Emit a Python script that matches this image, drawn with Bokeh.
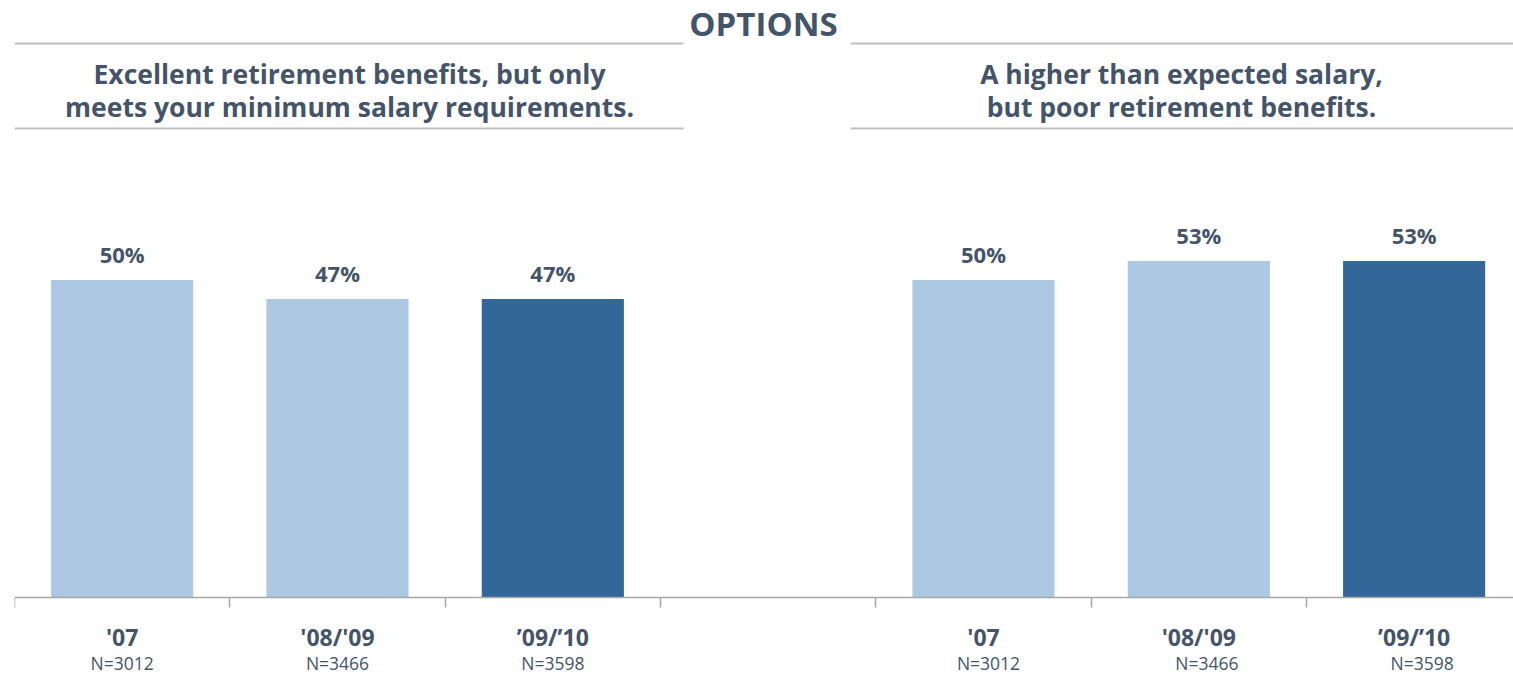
from bokeh.plotting import figure
from bokeh.models import Range1d, LinearAxis, FixedTicker, ColumnDataSource
from bokeh.core.properties import value
from bokeh.embed import file_html
from bokeh.resources import INLINE

# ---------------- data ----------------
periods = ["'07", "'08/'09", "\u201909/\u201910"]
sample_sizes = ["N=3012", "N=3466", "N=3598"]
option_titles = [
    ["Excellent retirement benefits, but only", "meets your minimum salary requirements."],
    ["A higher than expected salary,", "but poor retirement benefits."],
]
retirement_benefits_pct = [50, 47, 47]
higher_salary_pct = [50, 53, 53]
header = "OPTIONS"

# ---------------- style ----------------
LIGHT = "#adc8e3"
DARK = "#336699"
TEXT = "#44546a"
RULE = "#bfbfbf"
AXIS = "#a6a6a6"
FONT = "Open Sans"
N_SHIFT = [0, 0, 0, 5, 8, 8]   # small horizontal nudges of the N= labels (px)

W, H = 1513, 674
LEFT = 14                     # frame left border (px)
SLOT_PX = 215.33              # px per category slot
PX = 6.35                     # px per percentage point
BASE_PX = 597                 # baseline distance from frame top (px)
N_SLOTS = 7

x_end = (W - LEFT) / SLOT_PX
y_top = BASE_PX / PX
y_bot = -(H - BASE_PX) / PX

def xd(px):  # picture px -> data x
    return (px - LEFT) / SLOT_PX

def yd(py):  # picture px -> data y
    return (BASE_PX - py) / PX

p = figure(width=W, height=H, x_range=Range1d(0, x_end), y_range=Range1d(y_bot, y_top),
           x_axis_type=None, y_axis_type=None, output_backend="svg", toolbar_location=None,
           min_border_left=LEFT, min_border_right=0, min_border_top=0, min_border_bottom=0)
p.outline_line_color = None
p.xgrid.visible = False
p.ygrid.visible = False
p.background_fill_color = "white"

# bars (group 0 in slots 0-2, empty slot 3, group 1 in slots 4-6)
xs, tops, cols, labels = [], [], [], []
for g, vals in enumerate([retirement_benefits_pct, higher_salary_pct]):
    for i, v in enumerate(vals):
        xs.append(g * 4 + i + 0.5)
        tops.append(v)
        cols.append(DARK if i == len(vals) - 1 else LIGHT)
        labels.append(f"{v}%")
src = ColumnDataSource(dict(x=xs, top=tops, color=cols, label=labels,
                            period=periods * 2, n=sample_sizes * 2, nshift=N_SHIFT))
p.vbar(x="x", top="top", bottom=0, width=0.66, color="color", line_color=None, source=src)
p.text(x="x", y="top", text="label", source=src, y_offset=-26, text_align="center",
       text_baseline="middle", text_font=value(FONT), text_font_style="bold",
       text_font_size="22px", text_color=TEXT)
p.text(x="x", y=0, text="period", source=src, y_offset=39, text_align="center",
       text_baseline="middle", text_font=value(FONT), text_font_style="bold",
       text_font_size="23px", text_color=TEXT)
p.text(x="x", y=0, text="n", source=src, x_offset="nshift", y_offset=65, text_align="center",
       text_baseline="middle", text_font=value(FONT), text_font_size="17.5px",
       text_color=TEXT)

# axis at baseline with ticks at slot boundaries
ax = LinearAxis(fixed_location=0, ticker=FixedTicker(ticks=list(range(N_SLOTS + 1))))
ax.major_label_text_font_size = "0px"
ax.major_label_text_alpha = 0
ax.major_tick_in = 0
ax.major_tick_out = 10
ax.minor_tick_line_color = None
ax.axis_line_color = AXIS
ax.axis_line_width = 1.5
ax.major_tick_line_color = AXIS
ax.major_tick_line_width = 1.5
p.add_layout(ax, "below")

# header block
p.text(x=[xd(763)], y=[yd(23)], text=[header], text_align="center", text_baseline="middle",
       text_font=value(FONT), text_font_style="bold", text_font_size="33px", text_color=TEXT)
p.segment(x0=[xd(14), xd(850), xd(14), xd(850)], y0=[yd(43), yd(43), yd(128), yd(128)],
          x1=[xd(683), xd(1513), xd(683), xd(1513)], y1=[yd(43), yd(43), yd(128), yd(128)],
          line_color=RULE, line_width=2)
centers = [xd(349), xd(1181)]
for g, lines in enumerate(option_titles):
    p.text(x=[centers[g]] * 2, y=[yd(73), yd(106)], text=lines, text_align="center",
           text_baseline="middle", text_font=value(FONT), text_font_style="bold",
           text_font_size="26.5px", text_color=TEXT)

open("out.html", "w").write(file_html(p, INLINE))
